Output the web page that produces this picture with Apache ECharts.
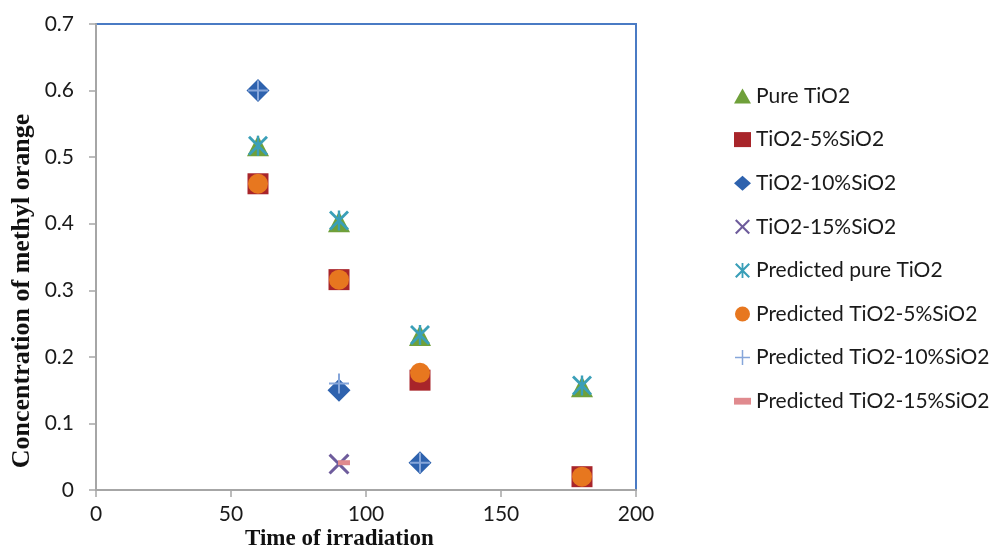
<!DOCTYPE html>
<html>
<head>
<meta charset="utf-8">
<script src="https://cdn.jsdelivr.net/npm/echarts@6/dist/echarts.min.js"></script>
<style>
  html, body { margin: 0; padding: 0; background: #fff; }
  #main { width: 996px; height: 550px; }
</style>
</head>
<body>
<div id="main"></div>
<script>
// irradiation times (x) and measured / predicted concentrations
const times = [60, 90, 120, 180]
const pureTiO2 = [0.517, 0.403, 0.232, 0.155]
const si5 = [0.46, 0.316, 0.165, 0.02]
const si10 = [0.60, 0.15, 0.041, null]
const si15 = [null, 0.039, null, null]
const predPure = [0.517, 0.405, 0.233, 0.157]
const pred5 = [0.46, 0.316, 0.176, 0.02]
const pred10 = [0.60, 0.16, 0.041, null]
const pred15 = [null, 0.041, null, null]
const seriesNames = [
    'Pure TiO2', 'TiO2-5%SiO2', 'TiO2-10%SiO2', 'TiO2-15%SiO2',
    'Predicted pure TiO2', 'Predicted TiO2-5%SiO2', 'Predicted TiO2-10%SiO2', 'Predicted TiO2-15%SiO2'
]

const X_PATH = 'path://M0,1 L1,0 L5,4 L9,0 L10,1 L6,5 L10,9 L9,10 L5,6 L1,10 L0,9 L4,5 Z'
const STAR_PATH = 'path://M0,1 L1,0 L5,4 L9,0 L10,1 L6,5 L10,9 L9,10 L5,6 L1,10 L0,9 L4,5 Z M4.4,0 L5.6,0 L5.6,10 L4.4,10 Z'
const PLUS_PATH = 'path://M4.5,0 L5.5,0 L5.5,4.5 L10,4.5 L10,5.5 L5.5,5.5 L5.5,10 L4.5,10 L4.5,5.5 L0,5.5 L0,4.5 L4.5,4.5 Z'
const DASH_PATH = 'path://M0,0 L10,0 L10,4 L0,4 Z'

const pairs = (vals) => times.map((t, i) => [t, vals[i]]).filter(p => p[1] !== null)

const mk = (name, vals, symbol, size, color, extra) => Object.assign({
    name: name,
    type: 'scatter',
    symbol: symbol,
    symbolSize: size,
    itemStyle: { color: color, opacity: 1 },
    data: pairs(vals)
}, extra || {})

const chart = echarts.init(document.getElementById('main'))
const labelFont = 'Lato, "Open Sans", sans-serif'
const option = {
    animation: false,
    grid: {
        left: 96, right: 360, top: 24, bottom: 60,
        show: true,
        borderColor: '#4A7BC4',
        borderWidth: 2
    },
    legend: {
        orient: 'vertical',
        left: 729,
        top: 80,
        itemWidth: 17,
        itemHeight: 15,
        itemGap: 21.6,
        data: seriesNames,
        textStyle: { fontFamily: labelFont, fontSize: 21, color: '#1a1a1a', lineHeight: 22 }
    },
    xAxis: {
        type: 'value',
        min: 0, max: 200, interval: 50,
        axisLine: { show: true, onZero: false, lineStyle: { color: '#A6A6A6', width: 2 } },
        axisTick: { show: true, length: 7, lineStyle: { color: '#A6A6A6', width: 1.5 } },
        axisLabel: { margin: 14, fontFamily: labelFont, fontSize: 21, color: '#1a1a1a' },
        splitLine: { show: false }
    },
    yAxis: {
        type: 'value',
        min: 0, max: 0.7, interval: 0.1,
        axisLine: { show: true, onZero: false, lineStyle: { color: '#A6A6A6', width: 2 } },
        axisTick: { show: true, length: 7, lineStyle: { color: '#A6A6A6', width: 1.5 } },
        axisLabel: {
            margin: 22, fontFamily: labelFont, fontSize: 21, color: '#1a1a1a',
            formatter: v => (Math.round(v * 10) / 10).toString()
        },
        splitLine: { show: false }
    },
    graphic: [
        {
            type: 'text', left: 245, top: 528,
            style: { text: 'Time of irradiation', font: 'bold 23px "Liberation Serif", serif', fill: '#111' }
        },
        {
            type: 'text', x: 22, y: 291, rotation: Math.PI / 2,
            style: {
                text: 'Concentration of methyl orange', font: 'bold 26px "Liberation Serif", serif',
                fill: '#111', align: 'center', verticalAlign: 'middle'
            }
        }
    ],
    series: [
        mk(seriesNames[0], pureTiO2, 'triangle', [22, 21], '#6FA03A'),
        mk(seriesNames[1], si5, 'rect', 21, '#A8252A'),
        mk(seriesNames[2], si10, 'diamond', [23, 23], '#2E62AE'),
        mk(seriesNames[3], si15, X_PATH, 21, '#6E5C9C'),
        mk(seriesNames[4], predPure, STAR_PATH, 20, '#3A9FB8'),
        mk(seriesNames[5], pred5, 'circle', 20, '#E7771F'),
        mk(seriesNames[6], pred10, PLUS_PATH, 20, '#86A6DA'),
        mk(seriesNames[7], pred15, DASH_PATH, [12, 5], '#E08A8E', { symbolOffset: [5, 0] })
    ]
}
chart.setOption(option)
</script>
</body>
</html>
